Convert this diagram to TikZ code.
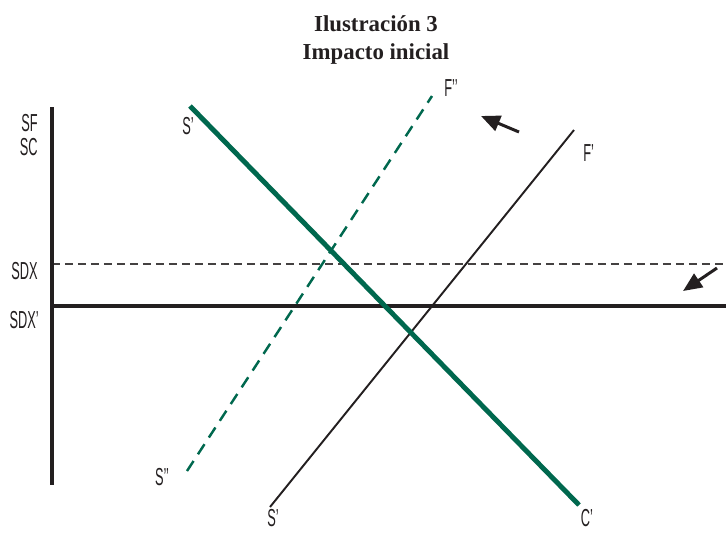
\documentclass[tikz,border=0pt]{standalone}
\usepackage{fontspec}
\setmainfont{Liberation Serif}
\newfontfamily\lblfont[FakeStretch=0.52]{Liberation Sans}
\usetikzlibrary{arrows.meta}
\definecolor{schgreen}{RGB}{0,104,78}
\definecolor{inkblack}{RGB}{35,31,32}
\tikzset{
  axisline/.style  = {line width=2.6pt, color=inkblack},
  blackline/.style = {line width=1.1pt, color=inkblack},
  greenline/.style = {line width=2.8pt, color=schgreen},
  greendash/.style = {line width=1.4pt, color=schgreen, dash pattern=on 0.24cm off 0.16cm},
  refline/.style   = {line width=0.6pt, color=inkblack!85, dash pattern=on 0.16cm off 0.1cm},
  movearrow/.style = {line width=1.7pt, color=inkblack, -{Triangle[length=0.38cm, width=0.32cm]}},
  lbl/.style       = {font=\lblfont\fontsize{14}{14}\selectfont, inner sep=0pt, text=inkblack},
  ttl/.style       = {font=\bfseries\fontsize{13}{15.4}\selectfont, align=center, text=inkblack},
}

\begin{document}
\begin{tikzpicture}[x=0.02cm, y=-0.02cm]
  \useasboundingbox (0,0) rectangle (726,532);
  % title
  \node[ttl] (title) at (376,40) {Ilustración 3\\Impacto inicial};
  % axes
  \coordinate (otop) at (52,107);
  \coordinate (obot) at (52,485);
  \coordinate (sdxl) at (52,306);
  \coordinate (sdxr) at (726,306);
  \coordinate (refl) at (52,264);
  \coordinate (refr) at (726,264);
  \draw[refline] (refl) -- (refr);
  \draw[axisline] (sdxl) -- (sdxr);
  \draw[axisline] (otop) -- (obot);
  \node[lbl, anchor=east] (sf) at (38,123) {SF};
  \node[lbl, anchor=east] (sc) at (38,147) {SC};
  \node[lbl, anchor=east] (sdx) at (38,271) {SDX};
  \node[lbl, anchor=east] (sdxp) at (39,320) {SDX’};
  % schedules
  \coordinate (gtop) at (190,106);
  \coordinate (gbot) at (579,505);
  \coordinate (ftop) at (574,130);
  \coordinate (fbot) at (270,507);
  \coordinate (dtop) at (432,96);
  \coordinate (dbot) at (187,471);
  \draw[greendash] (dbot) -- (dtop);
  \draw[blackline] (fbot) -- (ftop);
  \draw[greenline] (gtop) -- (gbot);
  \node[lbl] (sptop) at (188,126) {S’};
  \node[lbl] (cp) at (587,518) {C’};
  \node[lbl] (spbot) at (273,518) {S’};
  \node[lbl, anchor=west] (fp) at (583,153) {F’};
  \node[lbl, anchor=west] (fpp) at (444,88) {F’’};
  \node[lbl] (spp) at (162,477) {S’’};
  % shifts
  \coordinate (m1a) at (519,132);
  \coordinate (m1b) at (481,116);
  \coordinate (m2a) at (717,268);
  \coordinate (m2b) at (683,291);
  \draw[movearrow] (m1a) -- (m1b);
  \draw[movearrow] (m2a) -- (m2b);
\end{tikzpicture}
\end{document}
